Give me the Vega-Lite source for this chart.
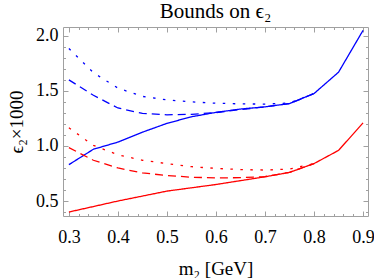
{
  "$schema": "https://vega.github.io/schema/vega-lite/v6.json",
  "width": 305,
  "height": 189,
  "autosize": {"type": "none"},
  "padding": {"left": 63, "top": 27, "right": 6, "bottom": 62},
  "title": {"text": "Bounds on ϵ₂", "font": "Liberation Serif", "fontSize": 21, "fontWeight": "normal", "color": "black", "anchor": "middle", "offset": 5},
  "config": {
    "view": {"stroke": "#a0a0a0", "strokeWidth": 1},
    "axis": {"grid": false, "domain": false, "tickColor": "#a0a0a0", "tickWidth": 1, "labelFont": "Liberation Serif", "labelFontSize": 18, "labelColor": "black", "titleFont": "Liberation Serif", "titleFontSize": 19, "titleFontWeight": "normal", "titleColor": "black"}
  },
  "data": {"values": [
    {"band": "blue", "style": "solid", "m": 0.30, "eps": 0.83},
    {"band": "blue", "style": "solid", "m": 0.35, "eps": 0.97},
    {"band": "blue", "style": "solid", "m": 0.40, "eps": 1.035},
    {"band": "blue", "style": "solid", "m": 0.45, "eps": 1.125},
    {"band": "blue", "style": "solid", "m": 0.50, "eps": 1.205},
    {"band": "blue", "style": "solid", "m": 0.55, "eps": 1.265},
    {"band": "blue", "style": "solid", "m": 0.60, "eps": 1.305},
    {"band": "blue", "style": "solid", "m": 0.65, "eps": 1.335},
    {"band": "blue", "style": "solid", "m": 0.70, "eps": 1.355},
    {"band": "blue", "style": "solid", "m": 0.75, "eps": 1.385},
    {"band": "blue", "style": "solid", "m": 0.80, "eps": 1.476},
    {"band": "blue", "style": "solid", "m": 0.85, "eps": 1.67},
    {"band": "blue", "style": "solid", "m": 0.90, "eps": 2.05},
    {"band": "blue", "style": "dashed", "m": 0.30, "eps": 1.60},
    {"band": "blue", "style": "dashed", "m": 0.35, "eps": 1.46},
    {"band": "blue", "style": "dashed", "m": 0.40, "eps": 1.345},
    {"band": "blue", "style": "dashed", "m": 0.45, "eps": 1.295},
    {"band": "blue", "style": "dashed", "m": 0.50, "eps": 1.283},
    {"band": "blue", "style": "dashed", "m": 0.55, "eps": 1.287},
    {"band": "blue", "style": "dashed", "m": 0.60, "eps": 1.303},
    {"band": "blue", "style": "dashed", "m": 0.65, "eps": 1.33},
    {"band": "blue", "style": "dashed", "m": 0.70, "eps": 1.355},
    {"band": "blue", "style": "dashed", "m": 0.75, "eps": 1.385},
    {"band": "blue", "style": "dashed", "m": 0.80, "eps": 1.476},
    {"band": "blue", "style": "dotted", "m": 0.30, "eps": 1.885},
    {"band": "blue", "style": "dotted", "m": 0.35, "eps": 1.665},
    {"band": "blue", "style": "dotted", "m": 0.40, "eps": 1.525},
    {"band": "blue", "style": "dotted", "m": 0.45, "eps": 1.45},
    {"band": "blue", "style": "dotted", "m": 0.50, "eps": 1.418},
    {"band": "blue", "style": "dotted", "m": 0.55, "eps": 1.40},
    {"band": "blue", "style": "dotted", "m": 0.60, "eps": 1.388},
    {"band": "blue", "style": "dotted", "m": 0.65, "eps": 1.382},
    {"band": "blue", "style": "dotted", "m": 0.70, "eps": 1.38},
    {"band": "blue", "style": "dotted", "m": 0.75, "eps": 1.39},
    {"band": "blue", "style": "dotted", "m": 0.80, "eps": 1.476},
    {"band": "red", "style": "solid", "m": 0.30, "eps": 0.40},
    {"band": "red", "style": "solid", "m": 0.35, "eps": 0.45},
    {"band": "red", "style": "solid", "m": 0.40, "eps": 0.50},
    {"band": "red", "style": "solid", "m": 0.45, "eps": 0.545},
    {"band": "red", "style": "solid", "m": 0.50, "eps": 0.59},
    {"band": "red", "style": "solid", "m": 0.55, "eps": 0.62},
    {"band": "red", "style": "solid", "m": 0.60, "eps": 0.65},
    {"band": "red", "style": "solid", "m": 0.65, "eps": 0.685},
    {"band": "red", "style": "solid", "m": 0.70, "eps": 0.72},
    {"band": "red", "style": "solid", "m": 0.75, "eps": 0.76},
    {"band": "red", "style": "solid", "m": 0.80, "eps": 0.84},
    {"band": "red", "style": "solid", "m": 0.85, "eps": 0.96},
    {"band": "red", "style": "solid", "m": 0.90, "eps": 1.21},
    {"band": "red", "style": "dashed", "m": 0.30, "eps": 0.985},
    {"band": "red", "style": "dashed", "m": 0.35, "eps": 0.87},
    {"band": "red", "style": "dashed", "m": 0.40, "eps": 0.80},
    {"band": "red", "style": "dashed", "m": 0.45, "eps": 0.755},
    {"band": "red", "style": "dashed", "m": 0.50, "eps": 0.732},
    {"band": "red", "style": "dashed", "m": 0.55, "eps": 0.716},
    {"band": "red", "style": "dashed", "m": 0.60, "eps": 0.71},
    {"band": "red", "style": "dashed", "m": 0.65, "eps": 0.712},
    {"band": "red", "style": "dashed", "m": 0.70, "eps": 0.722},
    {"band": "red", "style": "dashed", "m": 0.75, "eps": 0.76},
    {"band": "red", "style": "dashed", "m": 0.80, "eps": 0.84},
    {"band": "red", "style": "dotted", "m": 0.30, "eps": 1.165},
    {"band": "red", "style": "dotted", "m": 0.35, "eps": 1.005},
    {"band": "red", "style": "dotted", "m": 0.40, "eps": 0.92},
    {"band": "red", "style": "dotted", "m": 0.45, "eps": 0.87},
    {"band": "red", "style": "dotted", "m": 0.50, "eps": 0.84},
    {"band": "red", "style": "dotted", "m": 0.55, "eps": 0.812},
    {"band": "red", "style": "dotted", "m": 0.60, "eps": 0.796},
    {"band": "red", "style": "dotted", "m": 0.65, "eps": 0.786},
    {"band": "red", "style": "dotted", "m": 0.70, "eps": 0.781},
    {"band": "red", "style": "dotted", "m": 0.75, "eps": 0.79},
    {"band": "red", "style": "dotted", "m": 0.80, "eps": 0.84}
  ]},
  "resolve": {"axis": {"x": "independent", "y": "independent"}},
  "layer": [
    {
      "mark": {"type": "line", "strokeWidth": 1.3, "clip": true},
      "encoding": {
        "x": {"field": "m", "type": "quantitative", "scale": {"domain": [0.288, 0.91], "nice": false, "zero": false},
          "axis": {"orient": "bottom", "values": [0.3, 0.4, 0.5, 0.6, 0.7, 0.8, 0.9], "format": ".1f", "tickSize": -5, "labelPadding": 17, "title": "m₂ [GeV]", "titlePadding": 13}},
        "y": {"field": "eps", "type": "quantitative", "scale": {"domain": [0.364, 2.08], "nice": false, "zero": false},
          "axis": {"orient": "left", "values": [0.5, 1.0, 1.5, 2.0], "format": ".1f", "tickSize": -5, "labelPadding": 10, "title": "ϵ₂×1000", "titlePadding": 9}},
        "color": {"field": "band", "type": "nominal", "scale": {"domain": ["blue", "red"], "range": ["#0000ff", "#ff0000"]}, "legend": null},
        "strokeDash": {"field": "style", "type": "nominal", "scale": {"domain": ["solid", "dashed", "dotted"], "range": [[1, 0], [8, 5], [2.5, 7.5]]}, "legend": null}
      }
    },
    {
      "mark": {"type": "line", "opacity": 0},
      "encoding": {
        "x": {"field": "m", "type": "quantitative", "axis": {"orient": "top", "values": [0.3, 0.4, 0.5, 0.6, 0.7, 0.8, 0.9], "tickSize": -5, "labels": false, "title": null}},
        "y": {"field": "eps", "type": "quantitative", "axis": {"orient": "right", "values": [0.5, 1.0, 1.5, 2.0], "tickSize": -5, "labels": false, "title": null}}
      }
    },
    {
      "mark": {"type": "line", "opacity": 0},
      "encoding": {
        "x": {"field": "m", "type": "quantitative", "axis": {"orient": "bottom", "values": [0.3, 0.32, 0.34, 0.36, 0.38, 0.4, 0.42, 0.44, 0.46, 0.48, 0.5, 0.52, 0.54, 0.56, 0.58, 0.6, 0.62, 0.64, 0.66, 0.68, 0.7, 0.72, 0.74, 0.76, 0.78, 0.8, 0.82, 0.84, 0.86, 0.88, 0.9], "tickSize": -2.5, "labels": false, "title": null}},
        "y": {"field": "eps", "type": "quantitative", "axis": {"orient": "left", "values": [0.4, 0.5, 0.6, 0.7, 0.8, 0.9, 1.0, 1.1, 1.2, 1.3, 1.4, 1.5, 1.6, 1.7, 1.8, 1.9, 2.0], "tickSize": -2.5, "labels": false, "title": null}}
      }
    },
    {
      "mark": {"type": "line", "opacity": 0},
      "encoding": {
        "x": {"field": "m", "type": "quantitative", "axis": {"orient": "top", "values": [0.3, 0.32, 0.34, 0.36, 0.38, 0.4, 0.42, 0.44, 0.46, 0.48, 0.5, 0.52, 0.54, 0.56, 0.58, 0.6, 0.62, 0.64, 0.66, 0.68, 0.7, 0.72, 0.74, 0.76, 0.78, 0.8, 0.82, 0.84, 0.86, 0.88, 0.9], "tickSize": -2.5, "labels": false, "title": null}},
        "y": {"field": "eps", "type": "quantitative", "axis": {"orient": "right", "values": [0.4, 0.5, 0.6, 0.7, 0.8, 0.9, 1.0, 1.1, 1.2, 1.3, 1.4, 1.5, 1.6, 1.7, 1.8, 1.9, 2.0], "tickSize": -2.5, "labels": false, "title": null}}
      }
    }
  ]
}
